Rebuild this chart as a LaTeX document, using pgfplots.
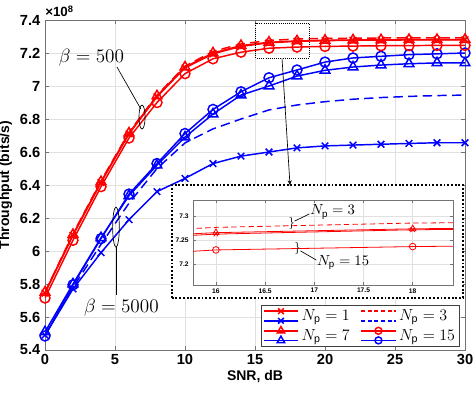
\documentclass[border=0pt]{standalone}
\usepackage{pgfplots}
\pgfplotsset{compat=1.18}
\usepackage{pgfplotstable}
\usepackage{fontspec}
\setmainfont{Liberation Sans}
\usetikzlibrary{arrows.meta}

% throughput in units of 1e8 bits/s; r = beta 500 (red), b = beta 5000 (blue)
\pgfplotstableread{
snr r1    r3    r7    r15   b1    b3    b7    b15
0   5.745 5.750 5.750 5.715 5.490 5.490 5.510 5.485
2   6.095 6.105 6.100 6.065 5.770 5.780 5.800 5.795
4   6.415 6.425 6.420 6.390 5.990 6.040 6.080 6.075
6   6.710 6.720 6.715 6.685 6.190 6.290 6.335 6.345
8   6.935 6.945 6.940 6.900 6.360 6.500 6.520 6.530
10  7.110 7.120 7.115 7.075 6.440 6.655 6.690 6.712
12  7.195 7.210 7.200 7.165 6.530 6.740 6.830 6.858
14  7.240 7.255 7.245 7.205 6.575 6.800 6.945 6.965
16  7.262 7.276 7.265 7.229 6.600 6.855 7.000 7.050
18  7.271 7.285 7.273 7.236 6.625 6.885 7.060 7.097
20  7.275 7.288 7.277 7.240 6.637 6.905 7.095 7.145
22  7.277 7.290 7.279 7.242 6.642 6.920 7.115 7.170
24  7.278 7.291 7.280 7.244 6.647 6.930 7.127 7.180
26  7.279 7.292 7.281 7.245 6.652 6.937 7.135 7.190
28  7.279 7.292 7.281 7.246 6.656 6.942 7.140 7.195
30  7.280 7.292 7.282 7.246 6.656 6.945 7.140 7.200
}\thr

\pgfplotsset{
  mystyle/.style={
    scale only axis,
    axis line style={black!55},
    every tick/.style={black!55},
    tick align=inside,
    grid=major,
    grid style={black!12},
    /pgf/number format/assume math mode=true,
  },
}

\begin{document}
\begin{tikzpicture}
\useasboundingbox (-33.75pt,-33pt) rectangle (321pt,262.5pt);
\begin{axis}[
  mystyle,
  at={(0,0)}, anchor=south west,
  width=315pt, height=247.5pt,
  xmin=0, xmax=30, ymin=5.4, ymax=7.4,
  xtick={0,5,10,15,20,25,30},
  ytick={5.4,5.6,5.8,6,6.2,6.4,6.6,6.8,7,7.2,7.4},
  major tick length=3pt,
  tick label style={font=\bfseries\fontsize{11}{13}\selectfont},
  xlabel={SNR, dB},
  ylabel={Throughput (bits/s)},
  label style={font=\bfseries\fontsize{10.5}{12}\selectfont},
  xlabel style={yshift=3pt},
  ylabel style={yshift=-1pt},
  clip mode=individual,
  legend columns=2,
  legend cell align=left,
  legend style={at={(1,0)}, anchor=south east, xshift=-3.75pt, yshift=2.25pt,
    draw=black!75, fill=white, font=\fontsize{12}{14}\selectfont,
    inner sep=1.5pt, row sep=1pt,
    /tikz/every even column/.append style={column sep=6pt}},
]
% legend images: red (beta=500) over blue (beta=5000)
\addlegendimage{legend image code/.code={
  \draw[red,line width=1.1pt,mark=x,mark size=3pt,mark indices={2}] plot coordinates {(0pt,3.6pt) (13pt,3.6pt) (26pt,3.6pt)};
  \draw[blue,line width=1.1pt,mark=x,mark size=3pt,mark indices={2}] plot coordinates {(0pt,-3.6pt) (13pt,-3.6pt) (26pt,-3.6pt)};}}
\addlegendentry{$N_\mathrm{p}=1$}
\addlegendimage{legend image code/.code={
  \draw[red,line width=1.1pt,dash pattern=on 3pt off 2pt] (0pt,3.6pt) -- (26pt,3.6pt);
  \draw[blue,line width=1.1pt,dash pattern=on 3pt off 2pt] (0pt,-3.6pt) -- (26pt,-3.6pt);}}
\addlegendentry{$N_\mathrm{p}=3$}
\addlegendimage{legend image code/.code={
  \draw[red,line width=1.1pt,mark=triangle,mark size=3.2pt,mark indices={2}] plot coordinates {(0pt,3.6pt) (13pt,3.6pt) (26pt,3.6pt)};
  \draw[blue,line width=1.1pt,mark=triangle,mark size=3.2pt,mark indices={2}] plot coordinates {(0pt,-3.6pt) (13pt,-3.6pt) (26pt,-3.6pt)};}}
\addlegendentry{$N_\mathrm{p}=7$}
\addlegendimage{legend image code/.code={
  \draw[red,line width=1.1pt,mark=o,mark size=2.6pt,mark indices={2}] plot coordinates {(0pt,3.6pt) (13pt,3.6pt) (26pt,3.6pt)};
  \draw[blue,line width=1.1pt,mark=o,mark size=2.6pt,mark indices={2}] plot coordinates {(0pt,-3.6pt) (13pt,-3.6pt) (26pt,-3.6pt)};}}
\addlegendentry{$N_\mathrm{p}=15$}

% beta = 5000
\addplot[blue, line width=1.1pt, mark=x, mark size=3.5pt, forget plot] table[x=snr,y=b1]{\thr};
\addplot[blue, line width=1.1pt, dash pattern=on 7pt off 4pt, forget plot] table[x=snr,y=b3]{\thr};
\addplot[blue, line width=1.1pt, mark=triangle, mark size=4.2pt, mark options={solid}, forget plot] table[x=snr,y=b7]{\thr};
\addplot[blue, line width=1.1pt, mark=o, mark size=3.75pt, forget plot] table[x=snr,y=b15]{\thr};
% beta = 500
\addplot[red, line width=1.1pt, mark=x, mark size=3.5pt, forget plot] table[x=snr,y=r1]{\thr};
\addplot[red, line width=1.1pt, dash pattern=on 7pt off 4pt, forget plot] table[x=snr,y=r3]{\thr};
\addplot[red, line width=1.1pt, mark=triangle, mark size=4.2pt, mark options={solid}, forget plot] table[x=snr,y=r7]{\thr};
\addplot[red, line width=1.1pt, mark=o, mark size=3.75pt, forget plot] table[x=snr,y=r15]{\thr};

% annotations
\node[anchor=south west, inner sep=0pt, font=\bfseries\fontsize{10}{12}\selectfont]
  at (rel axis cs:0,1) [yshift=2pt] {×10\textsuperscript{8}};
\draw[black, line width=0.6pt, dash pattern=on 0.6pt off 1pt]
  (axis cs:15.05,7.38) rectangle (axis cs:18.88,7.168);
\draw[black, line width=0.5pt, -{Stealth[length=3.5pt,width=3pt]}]
  (axis cs:16.93,7.168) -- (axis cs:17.5,6.40);
\node[font=\fontsize{14}{16}\selectfont] at (axis cs:3.32,7.17) {$\beta=500$};
\draw[black, line width=0.5pt] (axis cs:5.14,7.115) -- (axis cs:6.85,6.86);
\draw[black, line width=0.5pt] (axis cs:6.93,6.812) ellipse [x radius=2.3pt, y radius=9pt];
\node[font=\fontsize{14}{16}\selectfont] at (axis cs:5.46,5.655) {$\beta=5000$};
\draw[black, line width=0.5pt] (axis cs:5.07,6.145) ellipse [x radius=2.5pt, y radius=15pt];
\draw[black, line width=0.5pt] (axis cs:5.07,6.024) -- (axis cs:5.07,5.733);
\end{axis}

% white box that holds the inset
\draw[black, fill=white, line width=1.4pt, dash pattern=on 1.4pt off 1.4pt]
  (95.25pt,39pt) rectangle (313.5pt,123.75pt);

\begin{axis}[
  mystyle,
  at={(111.2pt,48.75pt)}, anchor=south west,
  width=194.8pt, height=63.75pt,
  xmin=15.77, xmax=18.41, ymin=7.156, ymax=7.333,
  xtick={16,16.5,17,17.5,18},
  ytick={7.2,7.25,7.3},
  major tick length=2pt,
  axis background/.style={fill=white},
  tick label style={font=\bfseries\fontsize{5}{6}\selectfont},
  xticklabel style={yshift=1pt},
]
\addplot[red, line width=0.6pt, mark=x, mark size=2.4pt] table[x=snr,y=r1]{\thr};
\addplot[red, line width=0.6pt, dash pattern=on 4pt off 2.5pt] table[x=snr,y=r3]{\thr};
\addplot[red, line width=0.6pt, mark=triangle, mark size=2.8pt, mark options={solid}] table[x=snr,y=r7]{\thr};
\addplot[red, line width=0.6pt, mark=o, mark size=2.5pt] table[x=snr,y=r15]{\thr};
\node[anchor=south west, inner sep=0pt, font=\bfseries\fontsize{5}{6}\selectfont]
  at (rel axis cs:0,1) [yshift=1pt] {×10\textsuperscript{8}};
\node[inner sep=0pt, font=\fontsize{9}{10}\selectfont] at (axis cs:16.77,7.285) {$\}$};
\draw[black, line width=0.5pt] (axis cs:16.80,7.289) -- (axis cs:16.95,7.304);
\node[anchor=west, inner sep=0.5pt, font=\fontsize{10.5}{12}\selectfont] at (axis cs:16.95,7.308) {$N_\mathrm{p}=3$};
\node[inner sep=0pt, font=\fontsize{9}{10}\selectfont] at (axis cs:16.83,7.233) {$\}$};
\draw[black, line width=0.5pt] (axis cs:16.86,7.227) -- (axis cs:17.02,7.208);
\node[anchor=west, inner sep=0.5pt, font=\fontsize{10.5}{12}\selectfont] at (axis cs:17.02,7.203) {$N_\mathrm{p}=15$};
\end{axis}
\end{tikzpicture}
\end{document}
